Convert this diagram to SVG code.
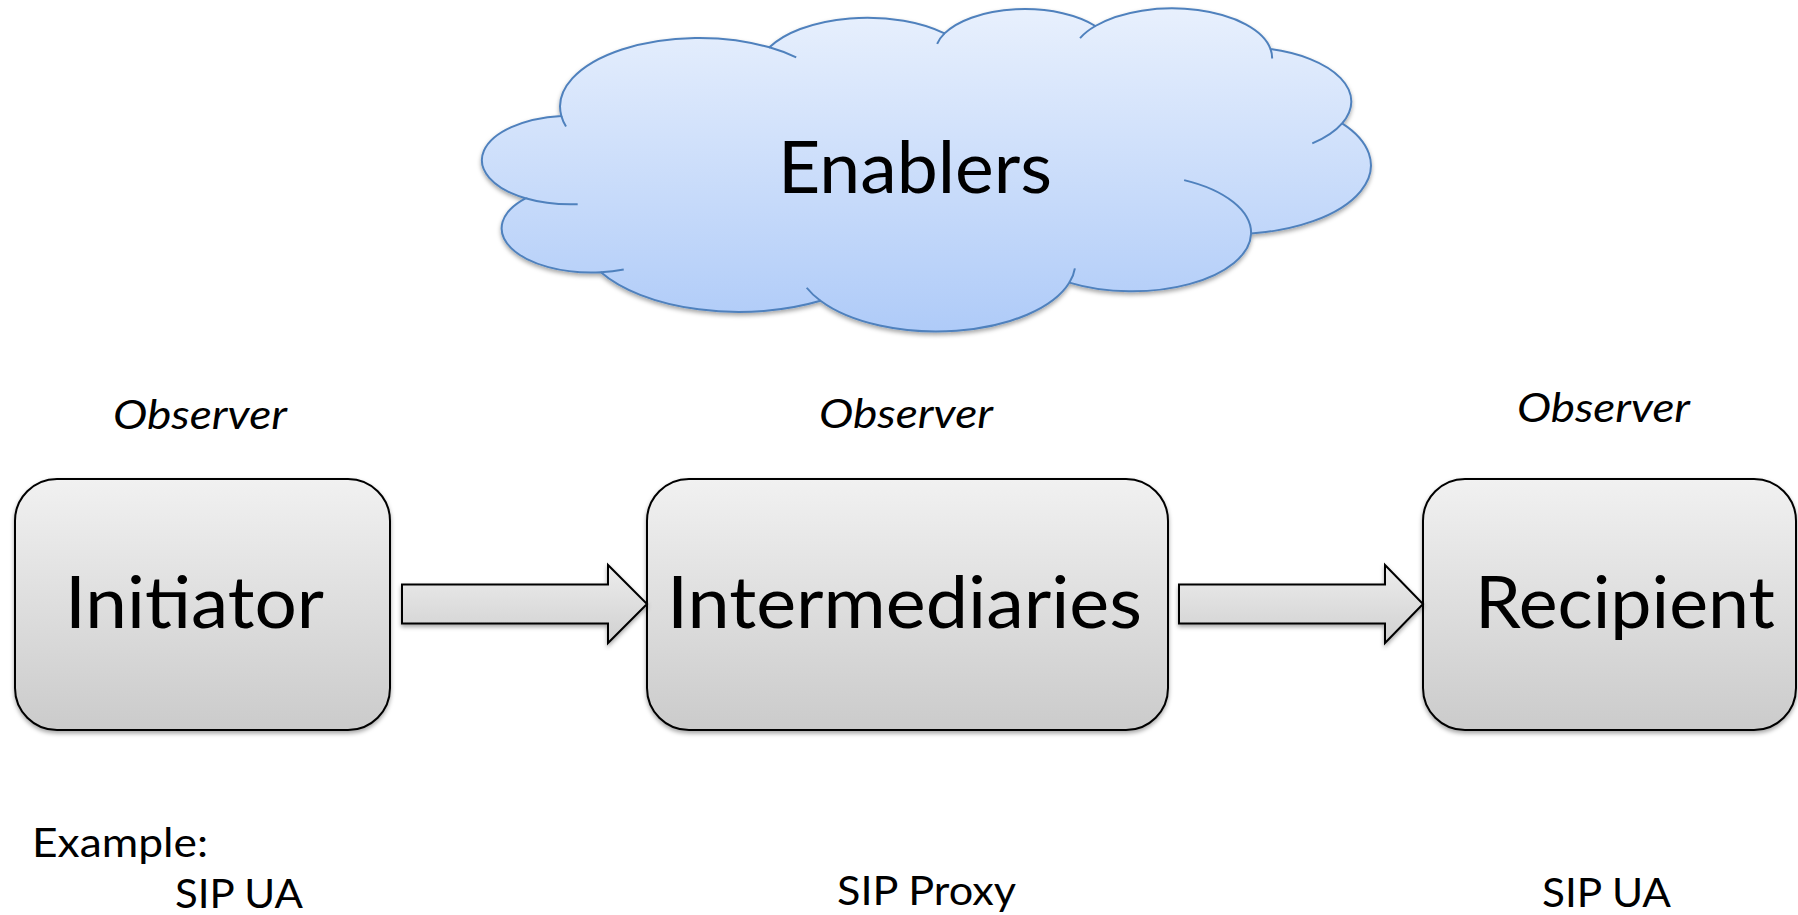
<svg xmlns="http://www.w3.org/2000/svg" width="1798" height="915" viewBox="0 0 1798 915">
  <defs>
    <linearGradient id="cloudFill" x1="0" y1="0" x2="0" y2="1">
      <stop offset="0" stop-color="#e8f0fd"/>
      <stop offset="1" stop-color="#afcbf8"/>
    </linearGradient>
    <linearGradient id="boxFill" x1="0" y1="0" x2="0" y2="1">
      <stop offset="0" stop-color="#f1f1f1"/>
      <stop offset="1" stop-color="#cbcbcb"/>
    </linearGradient>
    <linearGradient id="arrowFill" x1="0" y1="0" x2="0" y2="1">
      <stop offset="0" stop-color="#ededed"/>
      <stop offset="1" stop-color="#d0d0d0"/>
    </linearGradient>
    <filter id="shadow" x="-5%" y="-5%" width="110%" height="115%">
      <feDropShadow dx="0" dy="2.5" stdDeviation="2" flood-color="#000" flood-opacity="0.35"/>
    </filter>
  </defs>
  <style>
    .box { fill: url(#boxFill); stroke: #000; stroke-width: 2; filter: url(#shadow); }
    .arrow { fill: url(#arrowFill); stroke: #000; stroke-width: 2; stroke-linejoin: miter; filter: url(#shadow); }
    .cloud { fill: url(#cloudFill); stroke: #4f81bd; stroke-width: 2; filter: url(#shadow); }
    .cloud-inner { fill: none; stroke: #4f81bd; stroke-width: 2; }
    .big { font-family: Lato, "Liberation Sans", sans-serif; font-size: 72px; fill: #000; }
    .small { font-family: Lato, "Liberation Sans", sans-serif; font-size: 41px; fill: #000; }
    .obs { font-style: italic; }
  </style>

  <rect width="1798" height="915" fill="#fff"/>

  <!-- Enablers cloud -->
  <g id="enablers">
    <path class="cloud" d="M561.35,115.94 A139.12,68.71 0 0 1 769.43,47.32 A109.87,54.33 0 0 1 944.54,33.40 A89.93,44.45 0 0 1 1095.35,25.99 A100.06,49.31 0 0 1 1270.54,49.07 A109.87,54.38 0 0 1 1342.12,123.30 A139.58,68.94 0 0 1 1251.10,233.48 A119.18,58.82 0 0 1 1069.40,282.60 A139.10,68.90 0 0 1 820.48,300.77 A159.05,78.83 0 0 1 600.90,272.29 A89.82,44.25 0 0 1 525.50,198.26 A89.51,44.45 0 0 1 561.35,115.94 Z"/>
    <path class="cloud-inner" d="M577.68,204.22 A89.51,44.45 0 0 1 525.50,198.26 M623.73,269.43 A89.82,44.25 0 0 1 600.90,272.29 M820.48,300.77 A139.10,68.90 0 0 1 806.70,287.75 M1074.89,268.33 A139.10,68.90 0 0 1 1069.40,282.60 M1184.13,180.12 A119.18,58.82 0 0 1 1251.10,233.48 M1342.12,123.30 A109.87,54.38 0 0 1 1312.28,143.31 M1270.54,49.07 A100.06,49.31 0 0 1 1272.12,58.52 M1080.06,38.05 A100.06,49.31 0 0 1 1095.35,25.99 M937.14,43.79 A89.93,44.45 0 0 1 944.54,33.40 M769.43,47.32 A139.12,68.71 0 0 1 796.21,57.40 M566.02,126.55 A139.12,68.71 0 0 1 561.35,115.94"/>
    <text class="big" x="778" y="193" textLength="274" lengthAdjust="spacingAndGlyphs">Enablers</text>
  </g>

  <!-- Observer labels -->
  <g id="observers">
    <text class="small obs" x="113" y="429" textLength="174" lengthAdjust="spacingAndGlyphs">Observer</text>
    <text class="small obs" x="819" y="428" textLength="174" lengthAdjust="spacingAndGlyphs">Observer</text>
    <text class="small obs" x="1517" y="422" textLength="173" lengthAdjust="spacingAndGlyphs">Observer</text>
  </g>

  <!-- Role boxes -->
  <g id="initiator">
    <rect class="box" x="15" y="479" width="375" height="251" rx="42" ry="42"/>
    <text class="big" x="65" y="628" textLength="259" lengthAdjust="spacingAndGlyphs">Initiator</text>
  </g>
  <g id="intermediaries">
    <rect class="box" x="647" y="479" width="521" height="251" rx="42" ry="42"/>
    <text class="big" x="667" y="628" textLength="475" lengthAdjust="spacingAndGlyphs">Intermediaries</text>
  </g>
  <g id="recipient">
    <rect class="box" x="1423" y="479" width="373" height="251" rx="42" ry="42"/>
    <text class="big" x="1475" y="628" textLength="300" lengthAdjust="spacingAndGlyphs">Recipient</text>
  </g>

  <!-- Block arrows between roles -->
  <g id="connectors">
    <path class="arrow" d="M402,584.5 H608 V565 L647,604 L608,643 V623.5 H402 Z"/>
    <path class="arrow" d="M1179,584.5 H1385 V565 L1423,604 L1385,643 V623.5 H1179 Z"/>
  </g>

  <!-- Example deployment -->
  <g id="examples">
    <text class="small" x="32" y="857" textLength="176" lengthAdjust="spacingAndGlyphs">Example:</text>
    <text class="small" x="175" y="908" textLength="128" lengthAdjust="spacingAndGlyphs">SIP UA</text>
    <text class="small" x="837" y="905" textLength="179" lengthAdjust="spacingAndGlyphs">SIP Proxy</text>
    <text class="small" x="1542" y="907" textLength="129" lengthAdjust="spacingAndGlyphs">SIP UA</text>
  </g>
</svg>
